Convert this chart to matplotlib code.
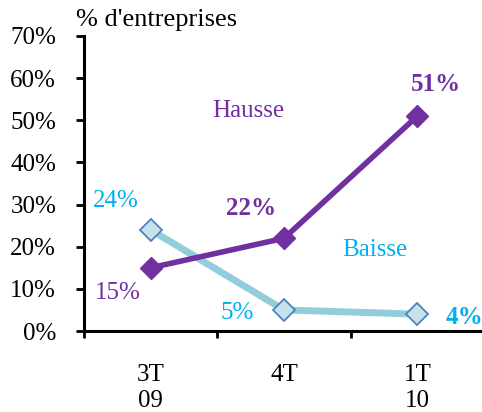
import matplotlib.pyplot as plt
from matplotlib.ticker import FixedLocator

periods = ['3T\n09', '4T', '1T\n10']
hausse = [15, 22, 51]
baisse = [24, 5, 4]
yticks = [0, 10, 20, 30, 40, 50, 60, 70]

purple = '#7030A0'
lblue = '#92CDDC'
blue_txt = '#00B0F0'

plt.rcParams['font.family'] = ['Liberation Serif', 'DejaVu Serif']

fig = plt.figure(figsize=(4.82, 4.12), dpi=100)
ax = fig.add_axes([84 / 482, 81 / 412, 400 / 482, 295 / 412])

x = list(range(len(periods)))
ax.plot(x, baisse, color=lblue, lw=5, marker='D', ms=11,
        mfc='#C5E3EC', mec='#4F81BD', mew=1.3, zorder=2)
ax.plot(x, hausse, color=purple, lw=4, marker='D', ms=11,
        mfc=purple, mec=purple, zorder=3)

ax.set_xlim(-0.5, 2.5)
ax.set_ylim(0, 70)
ax.set_yticks(yticks)
ax.set_yticklabels([f'{v}%' for v in yticks])
ax.set_xticks(x)
ax.set_xticklabels(periods)
ax.xaxis.set_minor_locator(FixedLocator([-0.5, 0.5, 1.5, 2.5]))

for s in ['top', 'right']:
    ax.spines[s].set_visible(False)
for s in ['left', 'bottom']:
    ax.spines[s].set_linewidth(2.2)

ax.tick_params(axis='y', direction='out', length=6, width=2, pad=14, labelsize=18)
ax.tick_params(axis='x', which='major', length=0, pad=24, labelsize=18)
ax.tick_params(axis='x', which='minor', direction='out', length=5, width=2)
for t in ax.get_xticklabels():
    t.set_linespacing(1.2)

fig.text(76 / 482, 1 - 20 / 412, "% d'entreprises", fontsize=19, va='center', ha='left')

# series names
ax.text(0.73, 52.3, 'Hausse', color=purple, fontsize=18, ha='center', va='center')
ax.text(1.68, 19.3, 'Baisse', color=blue_txt, fontsize=18, ha='center', va='center')

# value labels
ax.text(-0.25, 9.0, f'{hausse[0]}%', color=purple, fontsize=18, ha='center', va='center')
ax.text(0.75, 29.0, f'{hausse[1]}%', color=purple, fontsize=18, ha='center', va='center', fontweight='bold')
ax.text(2.14, 58.6, f'{hausse[2]}%', color=purple, fontsize=18, ha='center', va='center', fontweight='bold')
ax.text(-0.26, 30.8, f'{baisse[0]}%', color=blue_txt, fontsize=18, ha='center', va='center')
ax.text(0.65, 4.3, f'{baisse[1]}%', color=blue_txt, fontsize=18, ha='center', va='center')
ax.text(2.35, 3.3, f'{baisse[2]}%', color=blue_txt, fontsize=18, ha='center', va='center', fontweight='bold')

for t in ax.texts:
    t.set_clip_on(False)

fig.savefig('out.png', dpi=100)
